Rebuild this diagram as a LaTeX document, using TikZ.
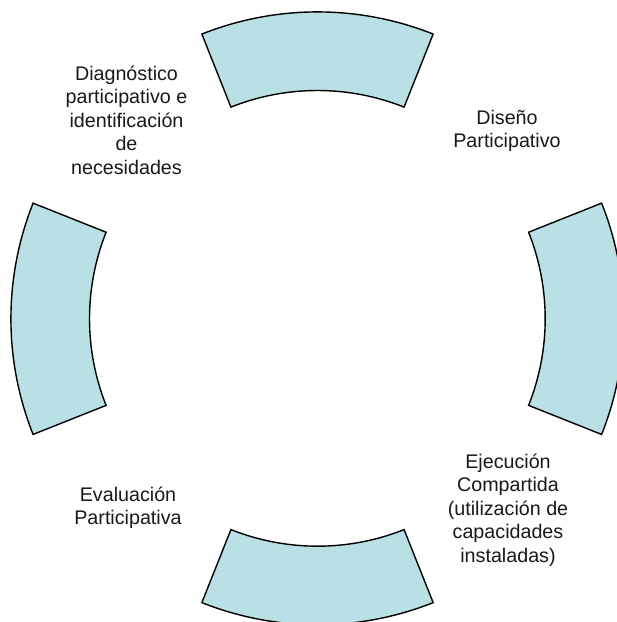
\documentclass[tikz,border=0pt]{standalone}
\usepackage{fontspec}
\setmainfont{Liberation Sans}
\usetikzlibrary{calc}
\definecolor{secfill}{RGB}{185,224,228}
\tikzset{
  sector/.style={fill=secfill, draw=black, line width=1.4pt, line join=miter},
  lbl/.style={align=center, font=\fontsize{19.7pt}{23.5pt}\selectfont, inner sep=0pt, text=black!90}
}
\newcommand{\mysector}[5]{% cx cy a1 a2
  \draw[sector] ($(#1pt,#2pt)+(#3:312.8pt)$) arc[start angle=#3, end angle=#4, radius=312.8pt]
    -- ($(#1pt,#2pt)+(#4:234.2pt)$) arc[start angle=#4, end angle=#3, radius=234.2pt] -- cycle;}
\begin{document}
\begin{tikzpicture}
\useasboundingbox (0,0) rectangle (617pt,622pt);
\fill[white] (0,0) rectangle (617pt,622pt);
\mysector{317.5}{297.3}{68.3}{111.7}{}
\mysector{317.5}{310}{248.3}{291.7}{}
\mysector{323.7}{303.2}{158.3}{201.7}{}
\mysector{311}{303.2}{-21.7}{21.7}{}
\node[lbl] (diag) at (126.5pt,502pt) {Diagnóstico\\participativo e\\identificación\\de\\necesidades};
\node[lbl] (dise) at (507pt,491pt) {Diseño\\Participativo};
\node[lbl] (ejec) at (508pt,112pt) {Ejecución\\Compartida\\(utilización de\\capacidades\\instaladas)};
\node[lbl] (eval) at (128pt,114pt) {Evaluación\\Participativa};
\end{tikzpicture}
\end{document}
